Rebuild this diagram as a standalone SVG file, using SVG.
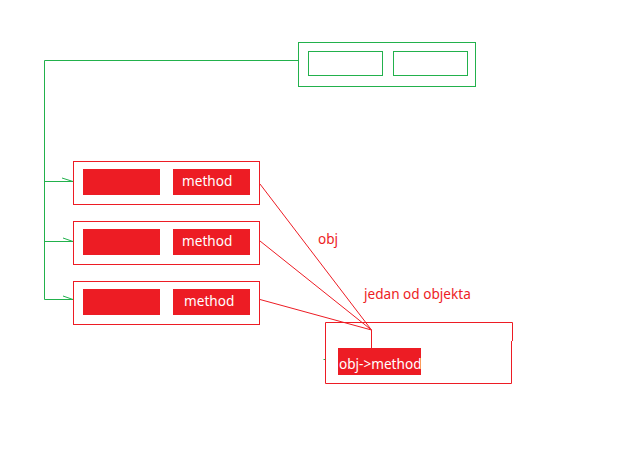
<svg xmlns="http://www.w3.org/2000/svg" width="644" height="462" viewBox="0 0 644 462">
<style>
.g{fill:none;stroke:#22b14c;stroke-width:1}
.r{fill:none;stroke:#ed1c24;stroke-width:1}
.f{fill:#ed1c24;stroke:none}
.wt{fill:#ffffff;font-family:"Noto Sans","DejaVu Sans",sans-serif;font-size:13.6px}
.rt{fill:#ed1c24;font-family:"Noto Sans","DejaVu Sans",sans-serif;font-size:13.6px}
</style>
<rect width="644" height="462" fill="#ffffff"/>
<g id="connectors">
<path class="g" d="M298 60.5H44.5V299.5H73M44.5 181.5H73M44.5 241.5H73"/>
<path class="g" d="M62 178L73 181.5M63 238L73 241.5M63 296L73 299.5"/>
<path class="r" d="M260 184L371.5 330M260 241L371.5 330M260 299.5L371.5 330M371.5 330V348"/>
<line x1="371.5" y1="348" x2="371.5" y2="357" stroke="#ffffff" stroke-width="1"/>
<line x1="323.5" y1="359.5" x2="326" y2="359.5" stroke="#22b14c" stroke-width="1"/>
</g>
<g id="top">
<rect class="g" x="298.5" y="42.5" width="177" height="44"/>
<rect class="g" x="308.5" y="51.5" width="74" height="24"/>
<rect class="g" x="393.5" y="51.5" width="74" height="24"/>
</g>
<g id="obj1">
<rect class="r" x="73.5" y="161.5" width="186" height="43"/>
<rect class="f" x="83" y="169" width="77" height="26"/>
<rect class="f" x="173" y="169" width="77" height="26"/>
<text class="wt" x="182" y="185.5">method</text>
</g>
<g id="obj2">
<rect class="r" x="73.5" y="221.5" width="186" height="43"/>
<rect class="f" x="83" y="229" width="77" height="26"/>
<rect class="f" x="173" y="229" width="77" height="26"/>
<text class="wt" x="182" y="245.5">method</text>
</g>
<g id="obj3">
<rect class="r" x="73.5" y="281.5" width="186" height="43"/>
<rect class="f" x="83" y="289" width="77" height="26"/>
<rect class="f" x="173" y="289" width="77" height="26"/>
<text class="wt" x="184" y="306">method</text>
</g>
<g id="target">
<path class="r" d="M512.5 341V322.5H325.5V383.5H511.5V341"/>
<rect class="f" x="338" y="348" width="83" height="27"/>
<text class="wt" x="339" y="368.5">obj-&gt;method</text>
</g>
<text class="rt" x="318" y="244">obj</text>
<text class="rt" x="364" y="299">jedan od objekta</text>
</svg>
